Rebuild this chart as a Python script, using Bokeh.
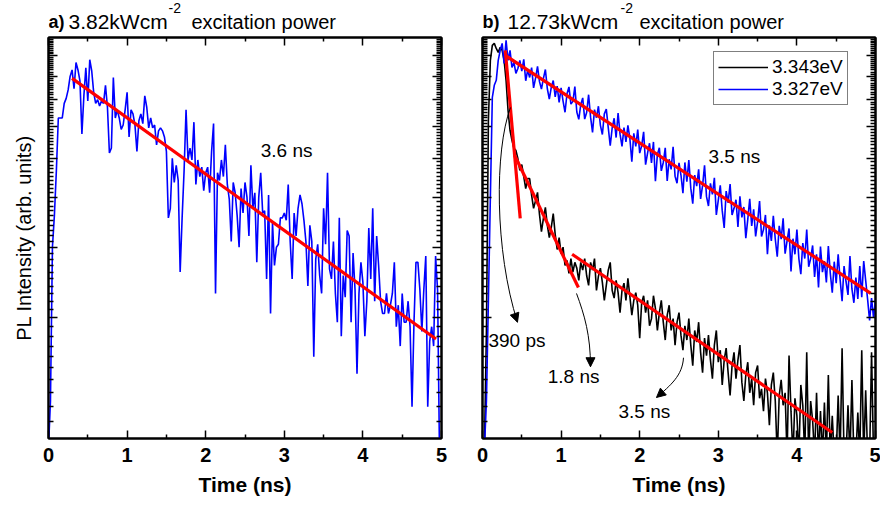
import numpy as np
from bokeh.plotting import figure
from bokeh.layouts import row, column
from bokeh.models import (Range1d, FixedTicker, LinearAxis, LogAxis, Label, Legend,
                          LegendItem, Arrow, NormalHead)
from bokeh.core.properties import value
from bokeh.embed import file_html
from bokeh.resources import INLINE

FONT = "Liberation Sans"

# ---------------- data ----------------
time_ns = np.linspace(0.0, 5.0, 201)

# panel a: 3.82 kWcm-2, blue trace
pl_a_blue = [
    0.95, 1.24, 3.0, 3.6, 4.65, 6.3, 6.3, 6.3, 6.85, 7.05,
    7.4, 8.0, 8.3, 7.45, 8.66, 8.3, 7.8, 5.75, 7.15, 8.4,
    6.95, 8.8, 8.25, 7.3, 6.85, 7.0, 6.75, 6.95, 6.85, 7.6,
    6.7, 5.15, 5.3, 7.95, 6.3, 6.6, 6.3, 5.9, 6.05, 6.6,
    7.3, 5.65, 6.6, 6.45, 6.05, 5.2, 6.2, 6.45, 6.1, 7.15,
    6.7, 5.95, 6.3, 5.95, 6.05, 5.4, 5.85, 5.95, 5.85, 5.65,
    5.2, 3.55, 3.75, 5.0, 4.35, 4.8, 4.4, 2.6, 3.55, 4.65,
    6.6, 4.95, 5.3, 4.95, 6.15, 4.3, 4.95, 4.5, 4.75, 4.15,
    4.6, 4.75, 4.1, 5.2, 6.1, 2.3, 4.6, 4.4, 4.95, 4.5,
    5.4, 4.3, 3.95, 3.1, 4.35, 4.1, 3.6, 3.0, 4.2, 3.65,
    4.35, 4.0, 3.2, 4.8, 3.75, 4.1, 2.75, 4.0, 4.6, 3.65,
    3.7, 2.5, 4.05, 2.05, 3.45, 2.7, 3.0, 3.05, 3.55, 3.55,
    3.65, 3.5, 4.3, 3.1, 2.5, 3.65, 3.2, 3.75, 4.05, 3.85,
    3.5, 3.1, 2.4, 3.4, 3.1, 1.6, 2.8, 3.05, 2.55, 2.3,
    3.75, 3.05, 4.6, 2.65, 2.5, 3.1, 2.3, 1.95, 3.55, 1.8,
    2.55, 2.25, 3.3, 3.2, 1.95, 2.9, 2.35, 1.45, 2.3, 2.75,
    2.45, 1.8, 2.2, 3.35, 2.5, 3.75, 2.2, 3.2, 2.7, 2.2,
    2.05, 2.05, 2.3, 2.05, 2.15, 2.3, 2.75, 1.9, 2.15, 1.7,
    2.3, 1.95, 1.95, 2.2, 1.9, 1.2, 1.95, 2.75, 2.75, 2.35,
    1.85, 2.35, 2.85, 1.2, 1.75, 1.9, 1.7, 2.85, 2.35, 0.9,
    0.9,
]

# panel b: 12.73 kWcm-2, 3.343 eV (black)
pl_b_3343 = [
    0.9, 0.95, 1.86, 6.21, 8.77, 9.56, 9.67, 9.39, 9.18, 9.45,
    9.29, 8.77, 7.82, 6.58, 5.87, 5.54, 5.29, 5.23, 4.99, 4.66,
    4.82, 4.50, 4.20, 4.45, 4.45, 4.04, 3.75, 3.92, 4.11, 3.62,
    3.28, 3.54, 3.77, 3.40, 3.17, 3.36, 3.64, 3.23, 2.96, 3.17,
    2.89, 3.00, 2.70, 2.78, 2.58, 2.81, 2.60, 2.75, 2.66, 2.48,
    2.75, 2.63, 2.81, 2.55, 2.41, 2.75, 2.63, 2.81, 2.34, 2.54,
    2.66, 2.45, 2.21, 2.41, 2.63, 2.75, 2.34, 2.24, 2.48, 2.31,
    2.06, 2.34, 2.44, 2.21, 2.51, 2.26, 2.03, 2.21, 2.31, 2.15,
    1.78, 2.18, 2.27, 2.06, 2.21, 1.91, 1.99, 2.27, 2.11, 1.86,
    2.06, 2.21, 1.95, 1.76, 2.03, 2.15, 1.86, 1.99, 1.71, 1.95,
    2.06, 1.81, 1.66, 1.91, 1.76, 1.99, 1.71, 1.52, 1.86, 1.74,
    1.95, 1.64, 1.46, 1.78, 1.61, 1.81, 1.57, 1.41, 1.71, 1.86,
    1.55, 1.66, 1.36, 1.57, 1.68, 1.46, 1.28, 1.52, 1.64, 1.41,
    1.57, 1.71, 1.38, 1.24, 1.44, 1.55, 1.30, 1.41, 1.21, 1.46,
    1.52, 1.26, 1.33, 1.17, 1.41, 1.30, 1.08, 1.36, 1.46, 1.24,
    0.9, 1.28, 1.40, 1.21, 1.30, 0.9, 1.61, 1.17, 0.9, 1.26,
    1.14, 0.9, 1.36, 1.21, 0.9, 1.64, 0.9, 1.24, 1.11, 0.9,
    1.30, 0.9, 1.17, 0.9, 1.23, 0.9, 1.44, 0.9, 1.14, 0.9,
    0.9, 1.28, 0.9, 1.68, 0.9, 0.9, 1.21, 0.9, 1.40, 0.9,
    0.9, 1.16, 0.9, 1.66, 0.9, 1.32, 0.9, 0.9, 1.64, 0.9,
    0.9,
]

# panel b: 3.327 eV (blue)
pl_b_3327 = [
    0.9, 0.95, 1.24, 2.21, 3.99, 7.09, 7.60, 7.82, 8.77, 9.29,
    9.67, 8.62, 9.84, 8.77, 9.29, 8.42, 8.67, 8.14, 8.37, 8.77,
    8.24, 8.82, 7.80, 8.30, 7.95, 8.41, 7.49, 7.92, 8.47, 7.76,
    7.44, 7.91, 8.32, 7.45, 7.02, 7.51, 7.81, 7.11, 7.56, 6.89,
    7.49, 6.94, 6.51, 7.24, 7.53, 6.82, 6.93, 7.54, 6.52, 6.25,
    6.80, 7.07, 6.26, 6.50, 7.20, 6.33, 5.80, 6.61, 6.31, 6.74,
    6.04, 5.73, 6.45, 6.63, 5.96, 5.37, 5.95, 6.29, 5.63, 6.48,
    5.74, 5.35, 5.96, 5.49, 6.04, 5.60, 4.90, 5.77, 5.35, 5.89,
    5.15, 5.37, 5.82, 4.82, 5.15, 5.45, 4.87, 5.49, 4.38, 5.11,
    5.31, 4.65, 4.88, 5.31, 4.39, 4.97, 4.69, 5.34, 4.51, 4.33,
    4.87, 4.54, 4.09, 4.88, 4.37, 4.95, 4.21, 3.85, 4.54, 4.26,
    4.69, 3.96, 4.27, 4.80, 4.01, 3.80, 4.33, 4.06, 4.47, 3.61,
    3.93, 4.28, 3.70, 3.35, 4.14, 3.87, 4.31, 3.61, 3.75, 3.94,
    3.37, 4.02, 3.56, 3.78, 3.16, 3.52, 3.96, 3.39, 3.73, 3.19,
    3.47, 3.91, 3.19, 3.32, 3.61, 2.88, 3.40, 3.11, 3.59, 3.14,
    2.84, 3.39, 3.14, 3.54, 2.89, 3.11, 3.34, 2.61, 3.15, 2.88,
    3.32, 2.81, 2.57, 3.07, 2.81, 3.32, 2.68, 2.81, 3.03, 2.53,
    2.88, 2.38, 3.01, 2.60, 2.77, 2.45, 3.02, 2.58, 2.31, 2.76,
    2.44, 2.88, 2.49, 2.20, 2.69, 2.46, 2.28, 2.85, 2.36, 2.18,
    2.52, 2.23, 2.69, 2.25, 2.77, 2.48, 2.22, 1.97, 2.24, 2.00,
    2.21,
]

# exponential fits (start/end points, straight on the log axis)
fit_a_t, fit_a_I = [0.30, 4.93], [7.91, 1.77]
fit_b_blue_t, fit_b_blue_I = [0.29, 4.94], [9.02, 2.30]
fit_b_390ps_t, fit_b_390ps_I = [0.29, 0.48], [9.29, 3.54]
fit_b_1p8_t, fit_b_1p8_I = [0.41, 1.22], [5.08, 2.38]
fit_b_3p5_t, fit_b_3p5_I = [1.14, 4.45], [2.88, 1.035]

x_ticks = [0, 1, 2, 3, 4, 5]
x_minor = [0.5, 1.5, 2.5, 3.5, 4.5]
y_major = [2, 3, 4, 5, 6, 7, 8, 9]
y_minor = [round(d + k / 10, 2) for d in range(1, 10) for k in range(1, 10)]

# frame geometry shared by title strip and panel (pixels)
A_LEFT, A_RIGHT = 48, 20
B_LEFT, B_RIGHT = 21, 5


def hide_labels(ax):
    ax.major_label_text_font_size = "1px"
    ax.major_label_text_color = None
    ax.major_label_standoff = 0


def style(p, ylabel):
    p.outline_line_color = "black"
    p.outline_line_width = 2
    p.xgrid.visible = False
    p.ygrid.visible = False
    p.background_fill_color = "white"
    p.border_fill_color = "white"

    xa = p.xaxis[0]
    xa.ticker = FixedTicker(ticks=x_ticks, minor_ticks=x_minor)
    xa.axis_label = "Time (ns)"
    xa.axis_label_text_font = FONT
    xa.axis_label_text_font_style = "bold"
    xa.axis_label_text_font_size = "21px"
    xa.axis_label_text_color = "black"
    xa.axis_label_standoff = 8
    xa.major_label_text_font = FONT
    xa.major_label_text_font_style = "bold"
    xa.major_label_text_font_size = "20px"
    xa.major_label_text_color = "black"
    xa.major_label_standoff = 9

    ya = p.yaxis[0]
    ya.ticker = FixedTicker(ticks=y_major, minor_ticks=y_minor)
    hide_labels(ya)
    if ylabel:
        ya.axis_label = ylabel
        ya.axis_label_text_font = FONT
        ya.axis_label_text_font_style = "normal"
        ya.axis_label_text_font_size = "20px"
        ya.axis_label_text_color = "black"
        ya.axis_label_standoff = 14

    top = LinearAxis(ticker=FixedTicker(ticks=x_ticks, minor_ticks=x_minor))
    right = LogAxis(ticker=FixedTicker(ticks=y_major, minor_ticks=y_minor))
    hide_labels(top)
    hide_labels(right)
    p.add_layout(top, "above")
    p.add_layout(right, "right")

    for ax in (xa, top):
        ax.major_tick_in, ax.major_tick_out = 8, 0
        ax.minor_tick_in, ax.minor_tick_out = 4, 0
    for ax in (ya, right):
        ax.major_tick_in, ax.major_tick_out = 9, 0
        ax.minor_tick_in, ax.minor_tick_out = 5, 0
    for ax in (xa, top, ya, right):
        ax.axis_line_width = 2
        ax.major_tick_line_width = 1.5
        ax.minor_tick_line_width = 1.5
        ax.axis_line_color = "black"


def title_fig(width, left, right, x0, parts):
    # x_range expressed in page pixels of the frame so text lands where intended
    t = figure(width=width, height=34, x_range=Range1d(x0 + left, x0 + width - right),
               y_range=Range1d(34, 0), x_axis_location=None, y_axis_location=None,
               output_backend="svg", toolbar_location=None, title=None,
               min_border_left=left, min_border_right=right,
               min_border_top=0, min_border_bottom=0)
    t.outline_line_color = None
    t.xgrid.visible = False
    t.ygrid.visible = False
    t.background_fill_color = "white"
    t.border_fill_color = "white"
    for txt, x, y, size, style_ in parts:
        t.text(x=[x], y=[y], text=[txt], text_font=value(FONT), text_font_size=size,
               text_font_style=style_, text_baseline="middle", text_color="black")
    return t


def note(p, x, y, text):
    p.add_layout(Label(x=x, y=y, text=text, text_font=FONT, text_font_size="19px",
                       text_color="black", text_baseline="middle", text_align="left"))


def curved_arrow(p, pts, head):
    (x0, y0), (x1, y1), (x2, y2), (x3, y3) = pts
    p.bezier(x0=[x0], y0=[y0], cx0=[x1], cy0=[y1], cx1=[x2], cy1=[y2], x1=[x3], y1=[y3],
             line_color="black", line_width=1)
    (hx0, hy0), (hx1, hy1) = head
    p.add_layout(Arrow(end=NormalHead(size=9, fill_color="black", line_color="black"),
                       x_start=hx0, y_start=hy0, x_end=hx1, y_end=hy1,
                       line_color="black", line_width=1))


# ---------------- panel a ----------------
pa = figure(width=461, height=472, x_range=Range1d(0, 5), y_range=Range1d(1, 10),
            y_axis_type="log", output_backend="svg", toolbar_location=None, title=None,
            min_border_left=A_LEFT, min_border_right=A_RIGHT, min_border_top=3,
            min_border_bottom=68)
style(pa, "PL Intensity (arb. units)")
pa.line(time_ns, pl_a_blue, line_color="#0000ff", line_width=1.6)
pa.line(fit_a_t, fit_a_I, line_color="#ff0000", line_width=3.2)
note(pa, 2.70, 5.23, "3.6 ns")
ta = title_fig(461, A_LEFT, A_RIGHT, 0, [
    ("a)", 48, 21, "18px", "bold"),
    ("3.82kWcm", 68, 21, "21px", "normal"),
    ("-2", 168, 7, "14px", "normal"),
    ("excitation power", 191, 21, "20px", "normal"),
])

# ---------------- panel b ----------------
pb = figure(width=419, height=472, x_range=Range1d(0, 5), y_range=Range1d(1, 10),
            y_axis_type="log", output_backend="svg", toolbar_location=None, title=None,
            min_border_left=B_LEFT, min_border_right=B_RIGHT, min_border_top=3,
            min_border_bottom=68)
style(pb, None)
r_black = pb.line(time_ns, pl_b_3343, line_color="black", line_width=1.6)
r_blue = pb.line(time_ns, pl_b_3327, line_color="#0000ff", line_width=1.6)
for ft, fi in ((fit_b_blue_t, fit_b_blue_I), (fit_b_390ps_t, fit_b_390ps_I),
               (fit_b_1p8_t, fit_b_1p8_I), (fit_b_3p5_t, fit_b_3p5_I)):
    pb.line(ft, fi, line_color="#ff0000", line_width=3.2)

note(pb, 2.875, 5.05, "3.5 ns")
note(pb, 0.076, 1.76, "390 ps")
note(pb, 0.83, 1.43, "1.8 ns")
note(pb, 1.73, 1.17, "3.5 ns")

curved_arrow(pb, [(0.356, 6.69), (0.153, 5.23), (0.153, 2.94), (0.445, 1.95)],
             [(0.422, 2.01), (0.445, 1.95)])
curved_arrow(pb, [(1.196, 2.30), (1.298, 2.03), (1.374, 1.81), (1.374, 1.51)],
             [(1.374, 1.565), (1.374, 1.51)])
curved_arrow(pb, [(2.557, 1.59), (2.545, 1.436), (2.392, 1.356), (2.214, 1.266)],
             [(2.272, 1.295), (2.214, 1.266)])

legend = Legend(items=[LegendItem(label="3.343eV", renderers=[r_black]),
                       LegendItem(label="3.327eV", renderers=[r_blue])],
                location=(231, 333), margin=0, padding=4, spacing=0,
                label_standoff=4, glyph_width=50, glyph_height=22, label_height=22,
                label_text_font=FONT, label_text_font_size="19px", label_text_color="black",
                border_line_color="black", border_line_width=1.2,
                background_fill_color="white", background_fill_alpha=1.0)
pb.add_layout(legend)
tb = title_fig(419, B_LEFT, B_RIGHT, 461, [
    ("b)", 482, 21, "18px", "bold"),
    ("12.73kWcm", 507, 21, "21px", "normal"),
    ("-2", 620, 7, "14px", "normal"),
    ("excitation power", 639, 21, "20px", "normal"),
])

layout = row(column(ta, pa), column(tb, pb))
open("out.html", "w").write(file_html(layout, INLINE))
